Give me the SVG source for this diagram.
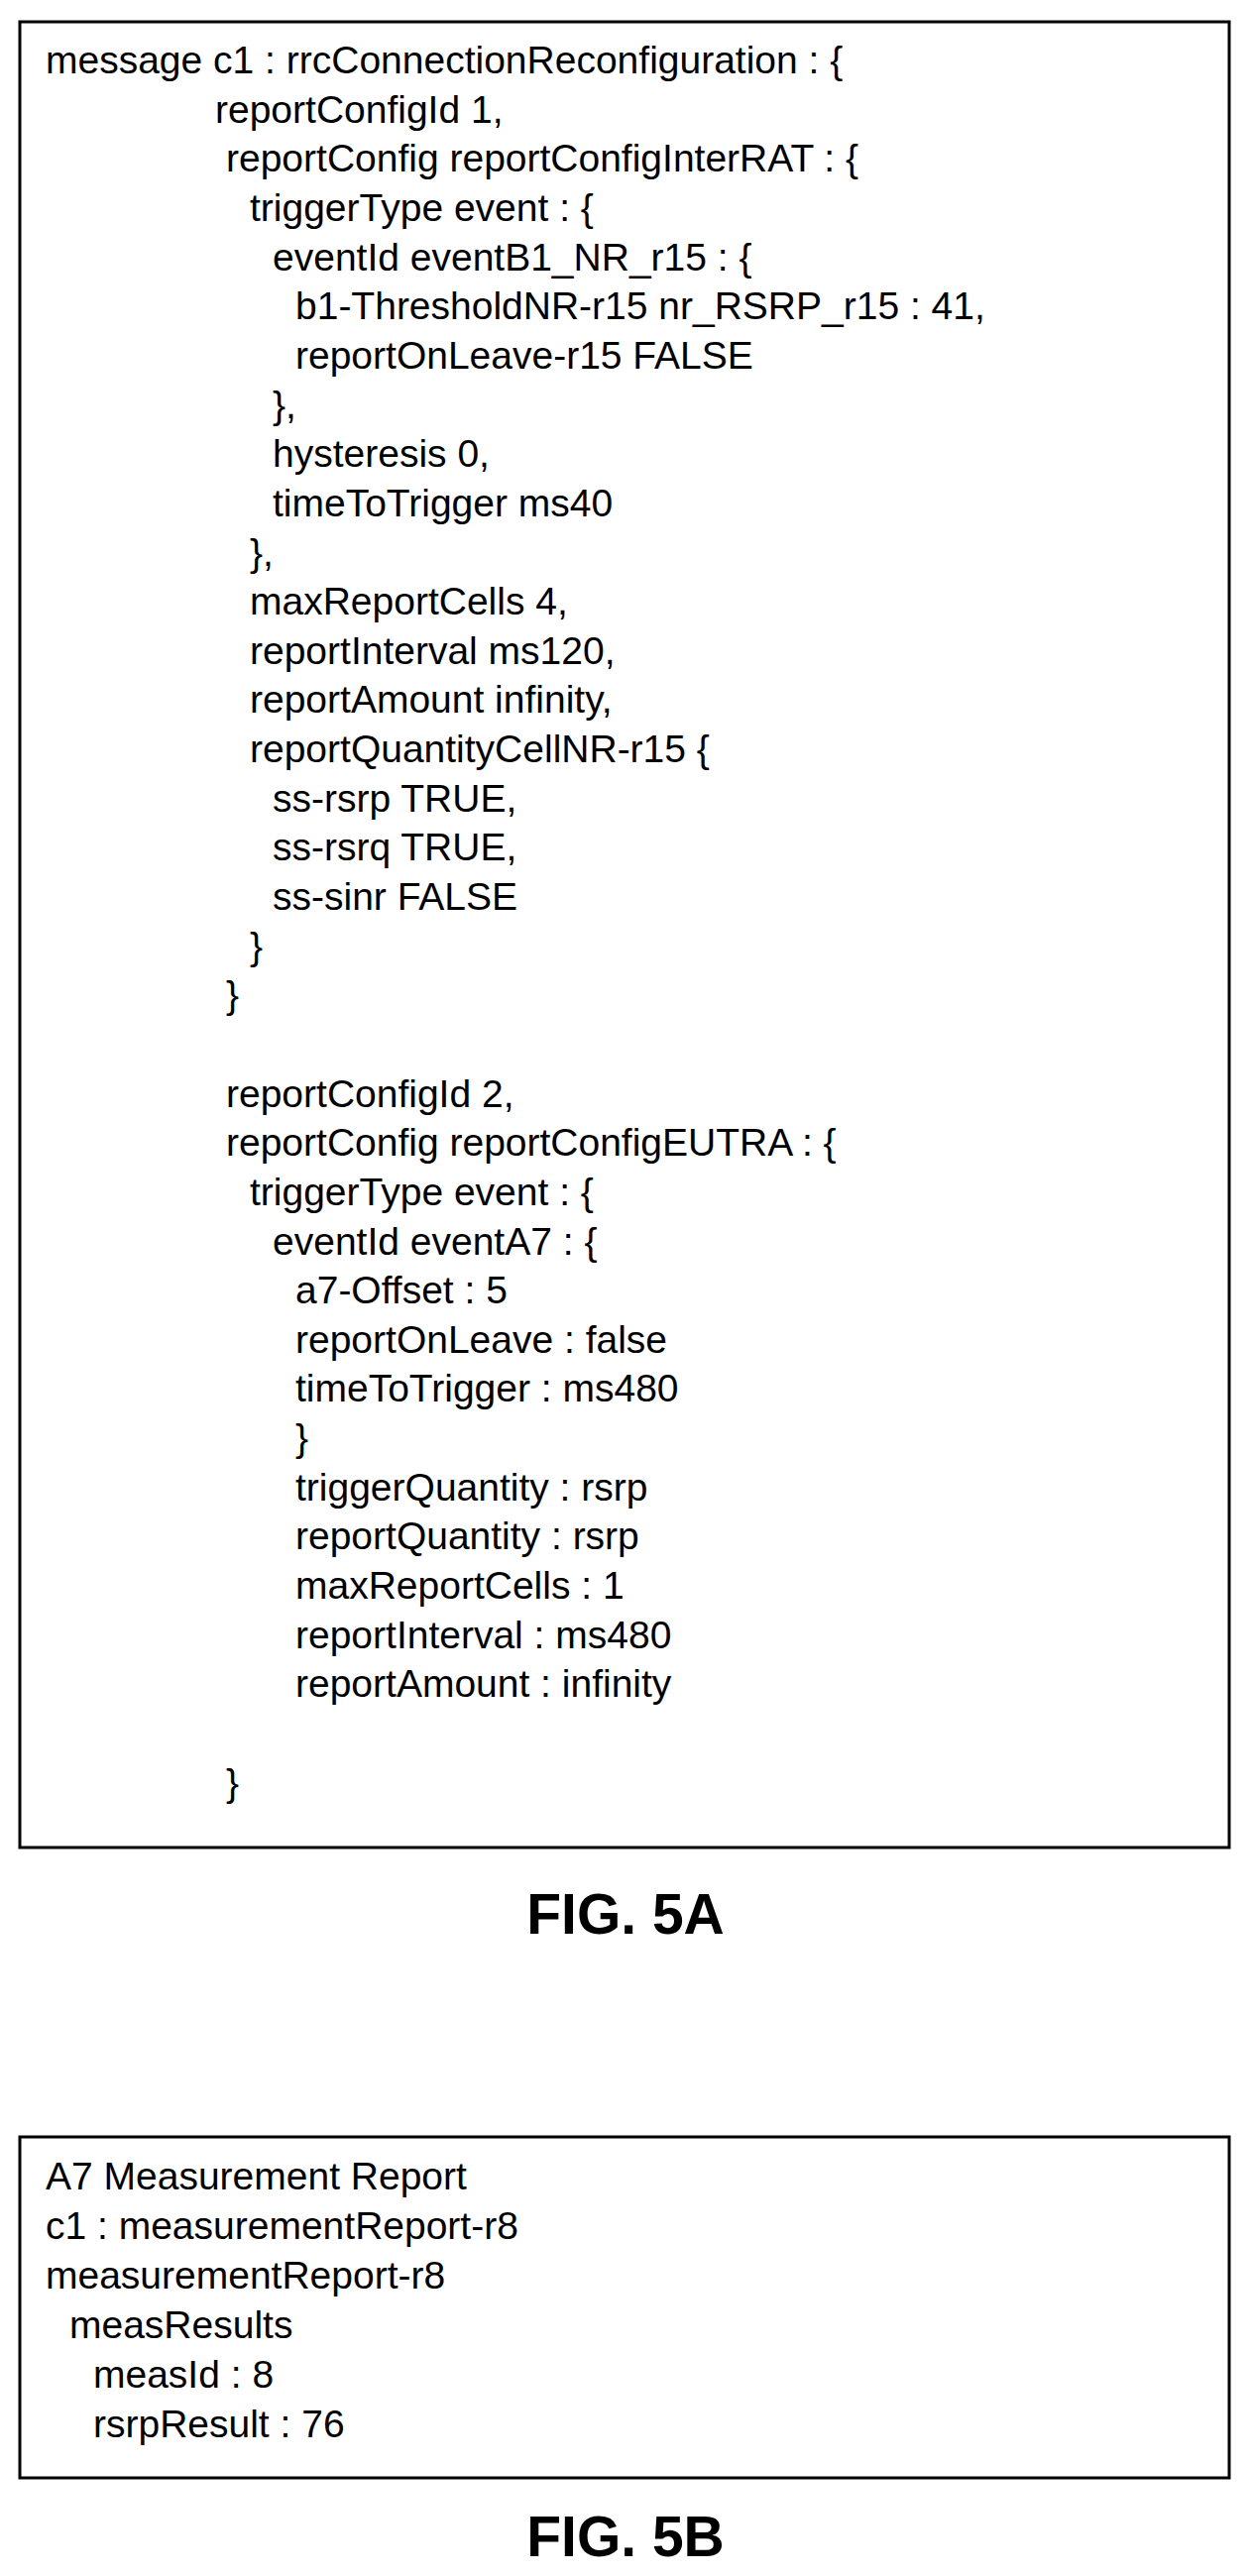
<svg xmlns="http://www.w3.org/2000/svg" width="1263" height="2599" viewBox="0 0 1263 2599">
<style>
.t{font-family:"Liberation Sans",Arial,sans-serif;font-size:39px;fill:#000}
.f{font-family:"Liberation Sans",Arial,sans-serif;font-size:57px;font-weight:bold;fill:#000}
.b{fill:#fff;stroke:#000;stroke-width:3}
</style>
<rect width="1263" height="2599" fill="#fff"/>
<g id="fig5a">
<rect class="b" x="20" y="22" width="1220" height="1842"/>
<text class="t" x="46" y="74">message c1 : rrcConnectionReconfiguration : {</text>
<text class="t" x="217" y="124">reportConfigId 1,</text>
<text class="t" x="228" y="173">reportConfig reportConfigInterRAT : {</text>
<text class="t" x="252" y="223">triggerType event : {</text>
<text class="t" x="275" y="273">eventId eventB1_NR_r15 : {</text>
<text class="t" x="298" y="322">b1-ThresholdNR-r15 nr_RSRP_r15 : 41,</text>
<text class="t" x="298" y="372">reportOnLeave-r15 FALSE</text>
<text class="t" x="275" y="422">},</text>
<text class="t" x="275" y="471">hysteresis 0,</text>
<text class="t" x="275" y="521">timeToTrigger ms40</text>
<text class="t" x="252" y="571">},</text>
<text class="t" x="252" y="620">maxReportCells 4,</text>
<text class="t" x="252" y="670">reportInterval ms120,</text>
<text class="t" x="252" y="719">reportAmount infinity,</text>
<text class="t" x="252" y="769">reportQuantityCellNR-r15 {</text>
<text class="t" x="275" y="819">ss-rsrp TRUE,</text>
<text class="t" x="275" y="868">ss-rsrq TRUE,</text>
<text class="t" x="275" y="918">ss-sinr FALSE</text>
<text class="t" x="252" y="968">}</text>
<text class="t" x="228" y="1017">}</text>
<text class="t" x="228" y="1117">reportConfigId 2,</text>
<text class="t" x="228" y="1166">reportConfig reportConfigEUTRA : {</text>
<text class="t" x="252" y="1216">triggerType event : {</text>
<text class="t" x="275" y="1266">eventId eventA7 : {</text>
<text class="t" x="298" y="1315">a7-Offset : 5</text>
<text class="t" x="298" y="1365">reportOnLeave : false</text>
<text class="t" x="298" y="1414">timeToTrigger : ms480</text>
<text class="t" x="298" y="1464">}</text>
<text class="t" x="298" y="1514">triggerQuantity : rsrp</text>
<text class="t" x="298" y="1563">reportQuantity : rsrp</text>
<text class="t" x="298" y="1613">maxReportCells : 1</text>
<text class="t" x="298" y="1663">reportInterval : ms480</text>
<text class="t" x="298" y="1712">reportAmount : infinity</text>
<text class="t" x="228" y="1812">}</text>
</g>
<text class="f" x="631" y="1951" text-anchor="middle">FIG. 5A</text>
<g id="fig5b">
<rect class="b" x="20" y="2156" width="1220" height="344"/>
<text class="t" x="46" y="2209">A7 Measurement Report</text>
<text class="t" x="46" y="2259">c1 : measurementReport-r8</text>
<text class="t" x="46" y="2309">measurementReport-r8</text>
<text class="t" x="70" y="2359">measResults</text>
<text class="t" x="94" y="2409">measId : 8</text>
<text class="t" x="94" y="2459">rsrpResult : 76</text>
</g>
<text class="f" x="631" y="2579" text-anchor="middle">FIG. 5B</text>
</svg>
